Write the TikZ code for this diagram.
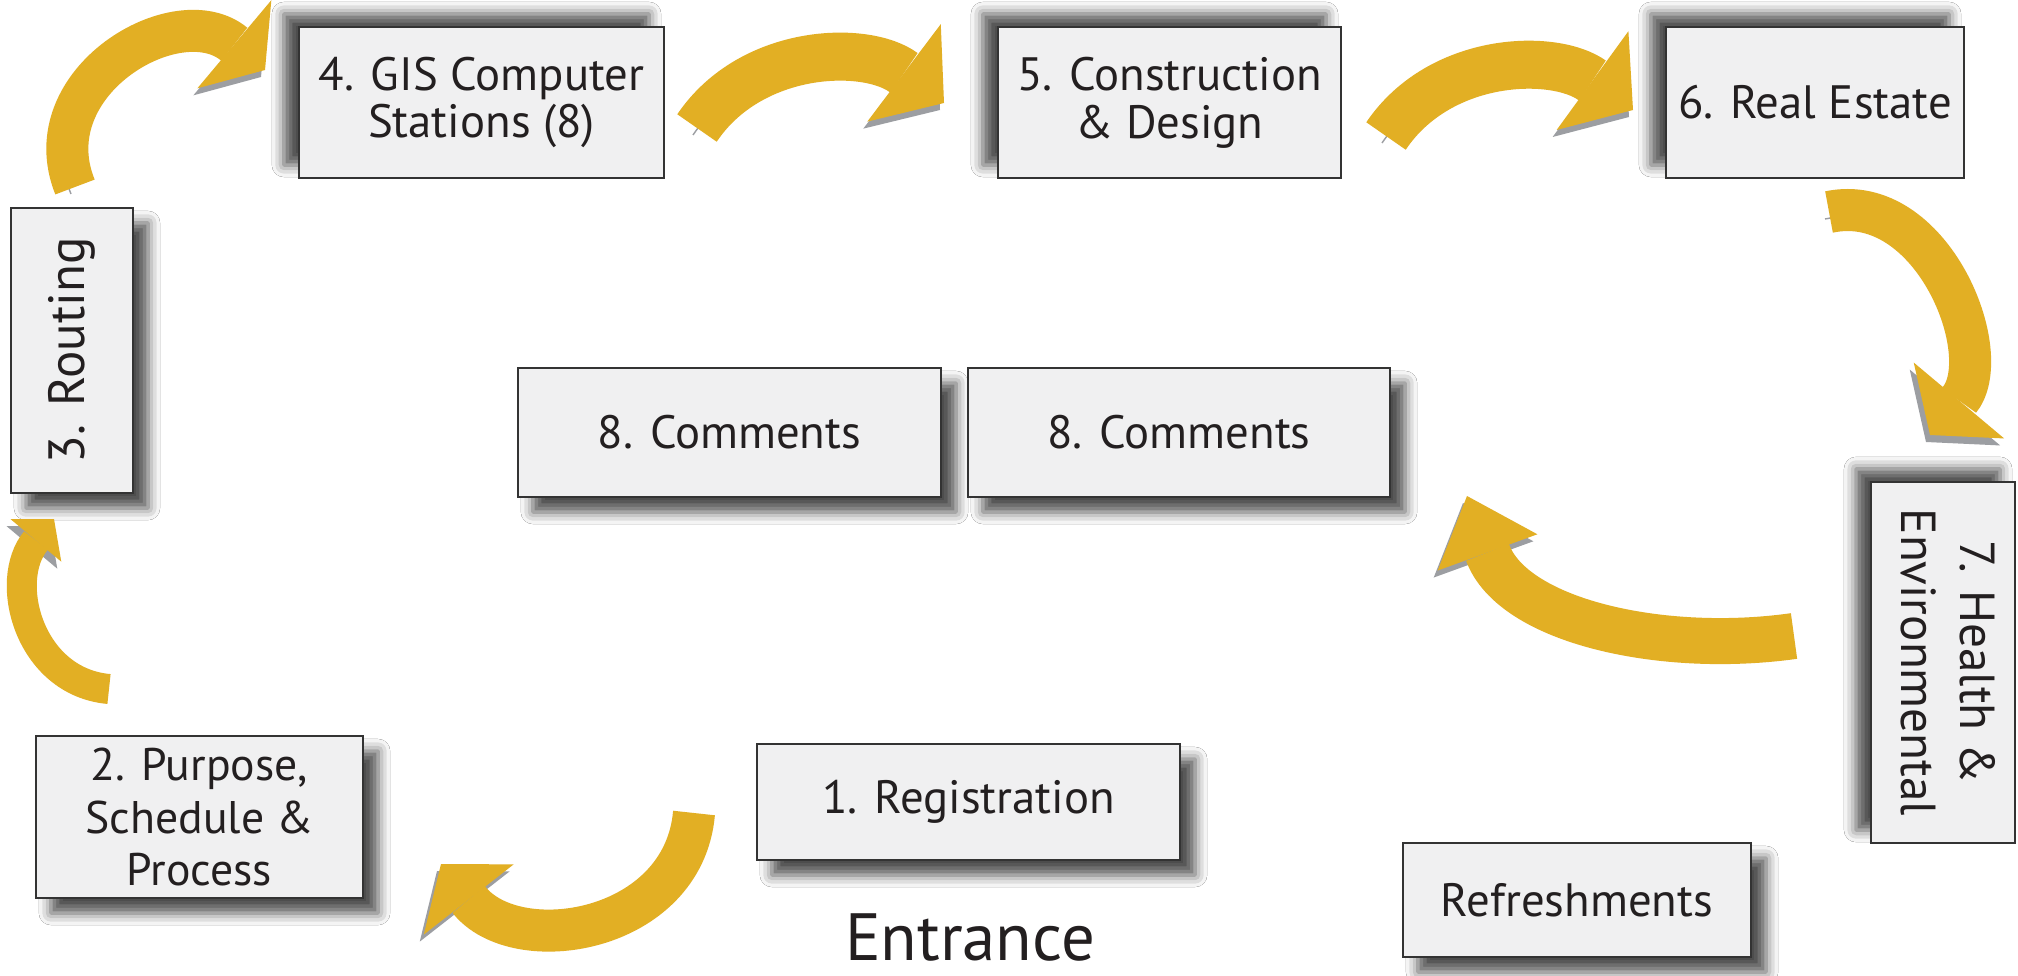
\documentclass[tikz,border=0pt]{standalone}
\usepackage{fontspec}
\usepackage{graphicx}
\setmainfont{PT Sans}
\usetikzlibrary{arrows.meta,positioning,shadows.blur}
\definecolor{gold}{HTML}{E2AF24}
\definecolor{pale}{HTML}{F0F0F1}
\definecolor{edge}{HTML}{333333}
\definecolor{shade}{HTML}{9C9EA2}
\definecolor{ink}{HTML}{231F20}

\begin{document}
\begin{tikzpicture}[x=0.01cm,y=0.01cm,
 box/.style={draw=edge,line width=.6pt,fill=pale,text=ink,align=center,
  inner sep=0pt,font=\fontsize{13.3}{13.6}\selectfont},
 upsh/.style={blur shadow={shadow xshift=-1.5mm,shadow yshift=1.3mm,
  shadow blur radius=1.2mm,shadow opacity=70}},
 dnsh/.style={blur shadow={shadow xshift=1.5mm,shadow yshift=-1.5mm,
  shadow blur radius=1.2mm,shadow opacity=70}},
 arr/.style n args={3}{draw=gold,line width=#1,
  -{Triangle[width=#2,length=#3,line width=0pt 0 0]},
  preaction={draw=shade,transform canvas={shift={(-4,-7)}}}}]
\fill[white] (0,0) rectangle (2018,-976);
\useasboundingbox (0,0) rectangle (2018,-976);

% stations
\node[box,upsh,minimum width=3.65cm,minimum height=1.51cm] (gis) at (481.5,-102.5) {4. GIS Computer\\Stations (8)};
\node[box,upsh,minimum width=3.43cm,minimum height=1.51cm] (design) at (1169.5,-102.5) {5. Construction\\\& Design};
\node[box,upsh,minimum width=2.98cm,minimum height=1.51cm] (estate) at (1815,-102.5) {6. Real Estate};
\node[box,upsh,minimum width=1.44cm,minimum height=3.61cm] (health) at (1943,-662.5)
 {\rotatebox{-90}{\fontsize{14}{17}\selectfont\begin{tabular}{@{}c@{}}7. Health \&\\Environmental\end{tabular}}};
\node[box,dnsh,minimum width=1.22cm,minimum height=2.85cm] (routing) at (72,-350.5)
 {\rotatebox{90}{\fontsize{14.5}{17}\selectfont 3. Routing}};
\node[box,dnsh,minimum width=4.23cm,minimum height=1.29cm] (comA) at (729.5,-432.5) {8. Comments};
\node[box,dnsh,minimum width=4.22cm,minimum height=1.29cm] (comB) at (1179,-432.5) {8. Comments};
\node[box,dnsh,minimum width=3.27cm,minimum height=1.62cm,font=\fontsize{13}{14.8}\selectfont] (purpose) at (199.5,-817) {2. Purpose,\\Schedule \&\\Process};
\node[box,dnsh,minimum width=4.23cm,minimum height=1.16cm] (regist) at (968.5,-802) {1. Registration};
\node[box,dnsh,minimum width=3.48cm,minimum height=1.14cm] (refresh) at (1577,-900) {Refreshments};
\node[text=ink,font=\fontsize{19}{22}\selectfont,anchor=base,inner sep=0pt] (entrance) at (970,-960) {Entrance};

% arrow ends
\coordinate (t34) at (75,-187);   \coordinate (h34) at (265,-70);
\coordinate (t45) at (697,-128);  \coordinate (h45) at (944,-103);
\coordinate (t56) at (1386,-136); \coordinate (h56) at (1633,-110);
\coordinate (t67) at (1829,-212); \coordinate (h67) at (1930,-435);
\coordinate (t78) at (1794,-636); \coordinate (h78) at (1467,-496);
\coordinate (t12) at (694,-813);  \coordinate (h12) at (441,-864);
\coordinate (t23) at (109,-689);  \coordinate (h23) at (54,-519);

\draw[arr={4.2mm}{11.5mm}{4mm}] (t34) to[out=112,in=140,looseness=1.3] (h34);
\draw[arr={4.8mm}{12.2mm}{5mm}] (t45) to[out=56,in=143,looseness=1] (h45);
\draw[arr={4.8mm}{12.2mm}{5mm}] (t56) to[out=56,in=144,looseness=1] (h56);
\draw[arr={4.2mm}{11.8mm}{4.5mm}] (t67) to[out=12,in=50,looseness=1.1] (h67);
\draw[arr={4.6mm}{10.6mm}{6mm}] (t78) to[out=188,in=-70,looseness=.96] (h78);
\draw[arr={4.2mm}{11.4mm}{4.5mm}] (t12) to[out=-95,in=-52,looseness=1.2] (h12);
\draw[arr={3mm}{6.6mm}{2.8mm}] (t23) to[out=175,in=230,looseness=1.15] (h23);
\end{tikzpicture}
\end{document}
